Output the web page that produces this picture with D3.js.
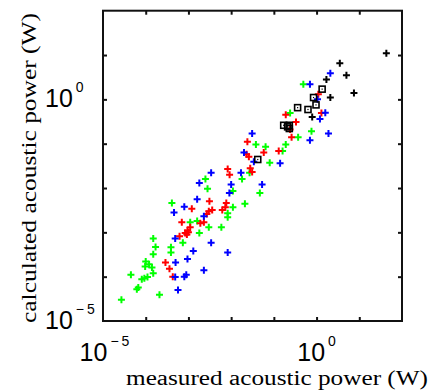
<!DOCTYPE html>
<html>
<head>
<meta charset="utf-8">
<script src="https://cdn.jsdelivr.net/npm/d3@7"></script>
<style>
  html, body { margin: 0; padding: 0; background: #fff; }
  svg { display: block; }
</style>
</head>
<body>
<div id="chart"></div>
<script>
const width = 435, height = 392;

// [measured W, calculated W] pairs
const greenPts = [
  [2.7e-5, 3.0e-5], [6.2e-5, 5.2e-5], [6.7e-5, 5.7e-5], [2.1e-4, 3.9e-5], [4.5e-5, 1.1e-4],
  [8.1e-5, 8.7e-5], [9.3e-5, 9.2e-5], [1.1e-4, 9.8e-5], [1.5e-4, 1.2e-4], [9.7e-5, 1.7e-4],
  [1.0e-4, 2.2e-4], [1.2e-4, 1.9e-4], [1.4e-4, 1.6e-4], [1.5e-4, 3.2e-4], [1.7e-4, 4.7e-4],
  [1.5e-4, 7.3e-4], [3.9e-4, 3.5e-4], [3.9e-4, 4.6e-4], [7.4e-4, 5.8e-4], [1.8e-3, 9.7e-4],
  [4.1e-4, 4.6e-3], [1.1e-3, 1.7e-3], [1.6e-3, 1.8e-3], [2.5e-3, 1.6e-2], [2.8e-3, 9.6e-3],
  [5.9e-3, 1.3e-3], [8.3e-3, 2.7e-3], [8.3e-3, 2.2e-3], [1.1e-2, 3.7e-3], [2.1e-2, 4.4e-3],
  [1.8e-2, 1.6e-2], [3.8e-2, 9.6e-2], [6.4e-2, 8.5e-2], [8.0e-2, 3.7e-2], [2.7e-2, 2.2e-2],
  [1.6e-1, 6.8e-2], [1.9e-1, 9.6e-2], [3.7e-1, 1.4e-1], [4.7e-2, 7.7e-3], [2.4e-1, 4.9e-1],
  [4.9e-1, 2.2], [7.6e-1, 1.9e-1], [3.0e-3, 1.3e-3], [1.1e-2, 8.6e-3]
];
const redPts = [
  [2.9e-4, 2.1e-4], [3.6e-4, 1.5e-4], [4.3e-4, 1.0e-4], [6.2e-4, 8.2e-4], [7.0e-4, 1.7e-3],
  [8.4e-4, 9.7e-4], [9.5e-4, 1.1e-3], [1.1e-3, 1.3e-3], [1.0e-3, 1.0e-3], [9.2e-4, 8.9e-4],
  [1.2e-3, 3.4e-3], [3.1e-3, 5.0e-3], [2.3e-3, 1.7e-3], [2.7e-3, 2.6e-3], [3.0e-3, 3.0e-3],
  [7.7e-3, 4.6e-3], [7.3e-3, 3.7e-3], [6.2e-3, 3.2e-3], [8.3e-3, 2.7e-2], [9.2e-3, 2.0e-2],
  [2.4e-2, 1.1e-1], [2.3e-2, 5.8e-2], [2.6e-2, 5.1e-2], [5.8e-2, 6.3e-2], [2.8e-2, 2.8e-2],
  [3.1e-2, 2.3e-2], [1.3e-1, 6.8e-2], [3.3e-1, 3.1e-1], [2.6e-1, 1.4e-1], [2.4e-1, 2.1e-1],
  [1.9e-1, 4.5e-1], [1.1, 1.3], [1.3, 4.9e-1], [1.9e-3, 1.6e-3], [3.6e-3, 3.2e-3]
];
const bluePts = [
  [4.9e-4, 7.3e-4], [1.3e-3, 3.8e-4], [9.5e-4, 2.5e-4], [5.0e-4, 2.1e-4], [4.9e-4, 9.8e-5],
  [8.0e-4, 1.0e-4], [8.9e-4, 1.1e-4], [5.7e-4, 5.0e-5], [2.3e-3, 1.4e-4], [3.4e-3, 5.8e-4],
  [4.6e-4, 2.8e-3], [8.0e-4, 3.8e-3], [1.6e-3, 5.6e-3], [1.8e-3, 1.3e-2], [3.4e-3, 2.2e-2],
  [2.3e-3, 2.3e-3], [1.0e-2, 1.2e-2], [9.1e-3, 7.7e-3], [1.7e-2, 2.2e-2], [8.3e-3, 3.5e-4],
  [3.1e-2, 1.7e-1], [2.0e-2, 6.3e-2], [3.4e-2, 3.9e-2], [1.4e-1, 3.6e-2], [5.3e-2, 1.2e-2],
  [7.0e-1, 1.2e-1], [2.1, 3.9], [7.0e-1, 2.2], [1.6, 5.0e-1], [1.2, 3.6e-1],
  [1.9, 1.7e-1], [1.05, 1.0]
];
const blackPts = [
  [43, 11], [3.5, 6.5], [5.0, 3.5], [1.7, 2.8], [2.1, 1.1], [7.5, 1.4], [7.9e-1, 4.0e-1]
];
const squarePts = [
  [1.7e-1, 2.6e-1], [2.3e-1, 2.6e-1], [2.3e-1, 2.2e-1], [2.1e-1, 2.4e-1], [3.6e-1, 6.5e-1],
  [6.3e-1, 5.9e-1], [8.5e-1, 1.1], [9.7e-1, 7.5e-1], [1.35, 1.7], [4.2e-2, 4.4e-2]
];

const decades = [1e-5, 1e-4, 1e-3, 1e-2, 1e-1, 1e0, 1e1, 1e2];
const labelTicks = [1e-5, 1e0];
const labelExps = ['\u22125', '0'];
const xTitle = 'measured acoustic power (W)';
const yTitle = 'calculated acoustic power (W)';

const svg = d3.select('#chart').append('svg')
  .attr('width', width)
  .attr('height', height)
  .style('background', '#fff');

const x = d3.scaleLog().domain([1e-5, 1e2]).range([103, 402]);
const y = d3.scaleLog().domain([1e-5, 1e2]).range([321, 10.7]);

const inner = decades.slice(1, -1);

// inward ticks on all four sides, no labels
const axes = [
  [d3.axisBottom(x), `translate(0,${y(1e-5)})`],
  [d3.axisTop(x), `translate(0,${y(1e2)})`],
  [d3.axisLeft(y), `translate(${x(1e-5)},0)`],
  [d3.axisRight(y), `translate(${x(1e2)},0)`]
];
axes.forEach(([ax, tr]) => {
  const g = svg.append('g').attr('transform', tr)
    .call(ax.tickValues(inner).tickSize(-4).tickFormat(''));
  g.select('.domain').remove();
  g.selectAll('.tick line').attr('stroke', '#111').attr('stroke-width', 2);
});

// frame
svg.append('rect')
  .attr('x', x(1e-5))
  .attr('y', y(1e2))
  .attr('width', x(1e2) - x(1e-5))
  .attr('height', y(1e-5) - y(1e2))
  .attr('fill', 'none')
  .attr('stroke', '#111')
  .attr('stroke-width', 2);

// markers
const plus = 'M-3.5,0H3.5M0,-3.5V3.5';
const series = [
  [greenPts, '#00ff00'],
  [redPts, '#ff0000'],
  [bluePts, '#0000ff'],
  [blackPts, '#000000']
];
series.forEach(([pts, col]) => {
  svg.append('g').selectAll('path')
    .data(pts)
    .join('path')
    .attr('d', plus)
    .attr('transform', d => `translate(${x(d[0])},${y(d[1])})`)
    .attr('stroke', col)
    .attr('stroke-width', 2)
    .attr('fill', 'none');
});

const sq = svg.append('g').selectAll('g')
  .data(squarePts)
  .join('g')
  .attr('transform', d => `translate(${x(d[0])},${y(d[1])})`);
sq.append('rect')
  .attr('x', -3).attr('y', -3).attr('width', 6).attr('height', 6)
  .attr('fill', 'none').attr('stroke', '#000').attr('stroke-width', 1.6);
sq.append('rect')
  .attr('x', -0.6).attr('y', -0.6).attr('width', 1.2).attr('height', 1.2)
  .attr('fill', '#000');

// tick labels 10^n
const tickFont = '"Liberation Sans", Arial, sans-serif';
function powerLabel(g) {
  return function(exp) {
    const base = g.append('text').attr('x', 0).attr('y', 0)
      .attr('font-family', tickFont).attr('font-size', 25).attr('fill', '#000')
      .text('10');
    const w = base.node().getComputedTextLength();
    const sup = g.append('text').attr('x', w + 3).attr('y', -15)
      .attr('font-family', tickFont).attr('font-size', 14).attr('fill', '#000');
    if (exp.length > 1) {
      sup.append('tspan').text(exp[0]);
      sup.append('tspan').attr('dx', 3).text(exp.slice(1));
    } else {
      sup.text(exp);
    }
    return w + 3 + sup.node().getComputedTextLength();
  };
}

labelTicks.forEach((v, i) => {
  const g = svg.append('g');
  const total = powerLabel(g)(labelExps[i]);
  g.attr('transform', `translate(${x(v) - total / 2},361)`);
});
labelTicks.forEach((v, i) => {
  const g = svg.append('g');
  powerLabel(g)(labelExps[i]);
  g.attr('transform', `translate(45,${y(v) + 8})`);
});

// axis titles
const serif = '"Liberation Serif", "Times New Roman", serif';
svg.append('text')
  .attr('x', 126).attr('y', 385)
  .attr('font-family', serif).attr('font-size', 20)
  .attr('textLength', 302).attr('lengthAdjust', 'spacingAndGlyphs')
  .text(xTitle);

svg.append('text')
  .attr('transform', 'translate(36,323) rotate(-90)')
  .attr('font-family', serif).attr('font-size', 21)
  .attr('textLength', 310).attr('lengthAdjust', 'spacingAndGlyphs')
  .text(yTitle);
</script>
</body>
</html>
